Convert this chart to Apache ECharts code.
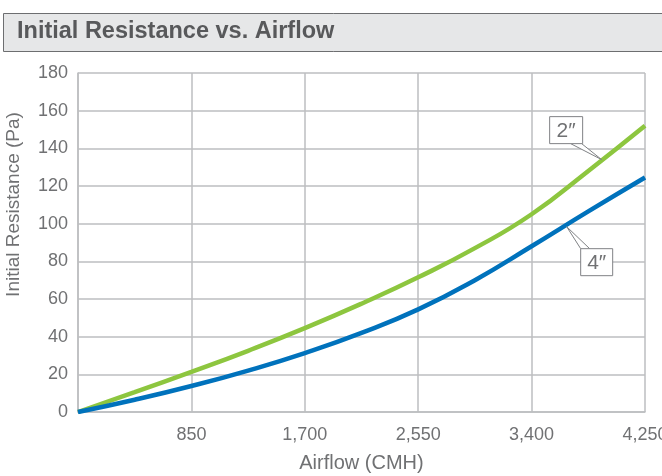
<!DOCTYPE html>
<html>
<head>
<meta charset="utf-8">
<script src="https://cdn.jsdelivr.net/npm/echarts@6/dist/echarts.min.js"></script>
<style>html,body{margin:0;padding:0;background:#fff;overflow:hidden}#c{width:662px;height:476px}</style>
</head>
<body>
<div id="c"></div>
<script>
const airflow = [0, 425, 850, 1275, 1700, 2125, 2550, 2975, 3400, 3825, 4250];
const twoInch = [0, 10.5, 21.3, 32.5, 44.5, 57.5, 71.5, 87, 105, 128, 152];
const fourInch = [0, 6.5, 13.8, 22, 31.3, 42, 54.5, 70, 88, 106.5, 124.5];
const xTicks = [850, 1700, 2550, 3400, 4250];
const yTicks = [0, 20, 40, 60, 80, 100, 120, 140, 160, 180];
const seriesNames = ['2″', '4″'];
const labelAnchors = [[3925, 134], [3663, 98.4]];

const font = 'Liberation Sans, Arial, Helvetica, sans-serif';
const textCol = '#707173';
const chart = echarts.init(document.getElementById('c'));
chart.setOption({
  animation: false,
  backgroundColor: '#fff',
  grid: {left: 78, right: 17, top: 73, bottom: 64, containLabel: false, outerBoundsMode: 'none'},
  xAxis: {
    type: 'value', min: 0, max: 4250, interval: 850,
    name: 'Airflow (CMH)', nameLocation: 'middle', nameGap: 41,
    nameTextStyle: {fontFamily: font, fontSize: 20, color: textCol},
    axisLine: {show: true, lineStyle: {color: '#bcbec0', width: 1.5}},
    axisTick: {show: false},
    splitLine: {show: true, lineStyle: {color: '#bcbec0', width: 1.5}},
    axisLabel: {
      fontFamily: font, fontSize: 18, color: textCol, margin: 14,
      formatter: v => xTicks.includes(v) ? v.toLocaleString('en-US') : ''
    }
  },
  yAxis: {
    type: 'value', min: 0, max: 180, interval: 20,
    name: 'Initial Resistance (Pa)', nameLocation: 'middle', nameGap: 55,
    nameTextStyle: {fontFamily: font, fontSize: 19, color: textCol, padding: [0, 0, 0, 76]},
    axisLine: {show: true, lineStyle: {color: '#bcbec0', width: 1.5}},
    axisTick: {show: false},
    splitLine: {show: true, lineStyle: {color: '#bcbec0', width: 1.5}},
    axisLabel: {
      fontFamily: font, fontSize: 18, color: textCol, margin: 10,
      formatter: v => yTicks.includes(v) ? String(v) : ''
    }
  },
  series: [
    {name: seriesNames[0], type: 'line', smooth: true, symbol: 'none',
     data: airflow.map((x, i) => [x, twoInch[i]]),
     lineStyle: {color: '#8dc63f', width: 4.5}, z: 3},
    {name: seriesNames[1], type: 'line', smooth: true, symbol: 'none',
     data: airflow.map((x, i) => [x, fourInch[i]]),
     lineStyle: {color: '#0072bc', width: 4.5}, z: 3}
  ]
});

const p2 = chart.convertToPixel({gridIndex: 0}, labelAnchors[0]);
const p4 = chart.convertToPixel({gridIndex: 0}, labelAnchors[1]);
const lineCol = '#808285';
const boxStyle = {fill: '#fff', stroke: lineCol, lineWidth: 1};
const txtStyle = {fontFamily: font, fontSize: 21, fill: textCol, align: 'center', verticalAlign: 'middle'};
const b2 = {x: p2[0] - 52, y: p2[1] - 43, w: 33, h: 27};
const b4 = {x: p4[0] + 14, y: p4[1] + 22, w: 32, h: 27};
chart.setOption({
  graphic: [
    {type: 'rect', left: 3, top: 13, shape: {x: 0, y: 0, width: 680, height: 38},
     style: {fill: '#e6e7e8', stroke: '#6d6e70', lineWidth: 1}, z: 10},
    {type: 'text', left: 17, top: 20, style: {text: 'Initial Resistance vs. Airflow', fontFamily: font,
      fontSize: 23.5, fontWeight: 'bold', fill: '#58595b'}, z: 11},
    {type: 'polyline', shape: {points: [[b2.x + 21, b2.y + b2.h], [p2[0], p2[1]], [b2.x + 32, b2.y + b2.h]]},
     style: {fill: '#fff', stroke: lineCol, lineWidth: 1}, z: 20},
    {type: 'rect', shape: {x: b2.x, y: b2.y, width: b2.w, height: b2.h}, style: boxStyle, z: 21},
    {type: 'text', x: b2.x + b2.w / 2, y: b2.y + b2.h / 2 + 1, style: Object.assign({text: seriesNames[0]}, txtStyle), z: 22},
    {type: 'polyline', shape: {points: [[b4.x, b4.y], [p4[0], p4[1]], [b4.x + 9, b4.y]]},
     style: {fill: '#fff', stroke: lineCol, lineWidth: 1}, z: 20},
    {type: 'rect', shape: {x: b4.x, y: b4.y, width: b4.w, height: b4.h}, style: boxStyle, z: 21},
    {type: 'text', x: b4.x + b4.w / 2, y: b4.y + b4.h / 2 + 1, style: Object.assign({text: seriesNames[1]}, txtStyle), z: 22}
  ]
});
</script>
</body>
</html>
